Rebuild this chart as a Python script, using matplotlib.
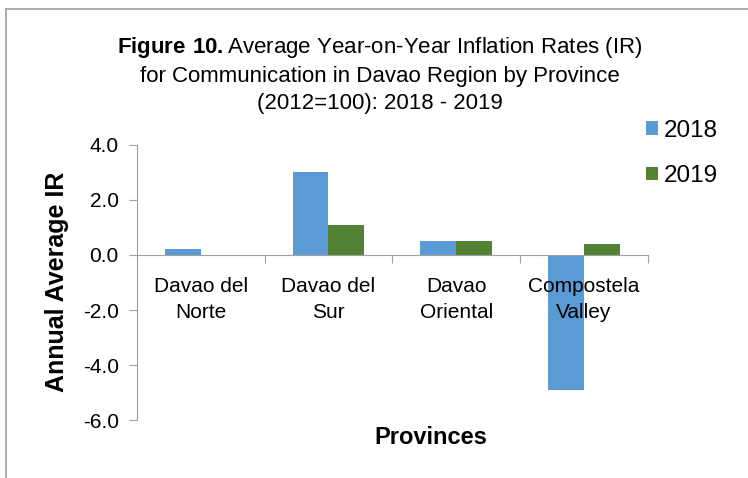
import numpy as np
import matplotlib.pyplot as plt
from matplotlib.lines import Line2D

plt.rcParams['font.family'] = ['Liberation Sans', 'DejaVu Sans']
plt.rcParams['mathtext.fontset'] = 'custom'
plt.rcParams['mathtext.rm'] = 'Liberation Sans'
plt.rcParams['mathtext.bf'] = 'Liberation Sans:bold'

# Average year-on-year inflation rates for communication
provinces = ['Davao del\nNorte', 'Davao del\nSur', 'Davao\nOriental', 'Compostela\nValley']
ir_2018 = [0.2, 3.0, 0.5, -4.9]
ir_2019 = [0.0, 1.1, 0.5, 0.4]
years = ['2018', '2019']

fig = plt.figure(figsize=(7.48, 4.78), dpi=100)
ax = fig.add_axes([0.183, 0.121, 0.683, 0.576])

x = np.arange(len(provinces))
w = 0.28
ax.bar(x - w / 2, ir_2018, w, color='#5B9BD5', label=years[0], zorder=1)
ax.bar(x + w / 2, ir_2019, w, color='#548235', label=years[1], zorder=1)

ax.set_xlim(-0.5, len(provinces) - 0.5)
ax.set_ylim(-6, 4)
yt = np.arange(-6, 4.1, 2)
ax.set_yticks(yt)
ax.set_yticklabels([f'{v:.1f}' for v in yt], fontsize=15)

# category labels sit below the zero line
ax.spines['bottom'].set_position(('data', 0))
ax.set_xticks(np.arange(-0.5, len(provinces), 1))
ax.set_xticklabels([])
ax.set_xticks(x, minor=True)
ax.set_xticklabels(provinces, minor=True, fontsize=15, linespacing=1.45)
ax.tick_params(axis='x', which='major', length=6, color='#A0A0A0', direction='out')
ax.tick_params(axis='x', which='minor', length=0, pad=16)
ax.tick_params(axis='y', length=6, color='#A0A0A0', pad=7)

for s in ['top', 'right']:
    ax.spines[s].set_visible(False)
ax.spines['left'].set_color('#A0A0A0')
ax.spines['bottom'].set_color('#A0A0A0')

fig.text(57 / 748, 1 - 282 / 478, 'Annual Average IR', fontsize=18, fontweight='bold',
         rotation=90, ha='center', va='center')
fig.text(0.576, 0.085, 'Provinces', fontsize=17, fontweight='bold', ha='center', va='center')

# title
fig.text(0.508, 0.90, r'$\mathbf{Figure\ 10.}$Average Year-on-Year Inflation Rates (IR)',
         fontsize=16, ha='center', va='center')
fig.text(0.508, 0.841, 'for Communication in Davao Region by Province',
         fontsize=16, ha='center', va='center')
fig.text(0.508, 0.784, '(2012=100): 2018 - 2019',
         fontsize=16, ha='center', va='center')

ax.legend(loc='upper left', bbox_to_anchor=(646 / 748, 1 - 120 / 478),
          bbox_transform=fig.transFigure, frameon=False, fontsize=17.5,
          borderpad=0, borderaxespad=0,
          handlelength=0.5, handleheight=0.5, handletextpad=0.25, labelspacing=0.95)

# chart border
fig.add_artist(Line2D([6 / 748, 1.0], [1 - 9 / 478, 1 - 9 / 478], color='#A0A0A0', lw=1.2))
fig.add_artist(Line2D([6 / 748, 6 / 748], [0.0, 1 - 9 / 478], color='#A0A0A0', lw=1.2))

fig.savefig('out.png', dpi=100)
